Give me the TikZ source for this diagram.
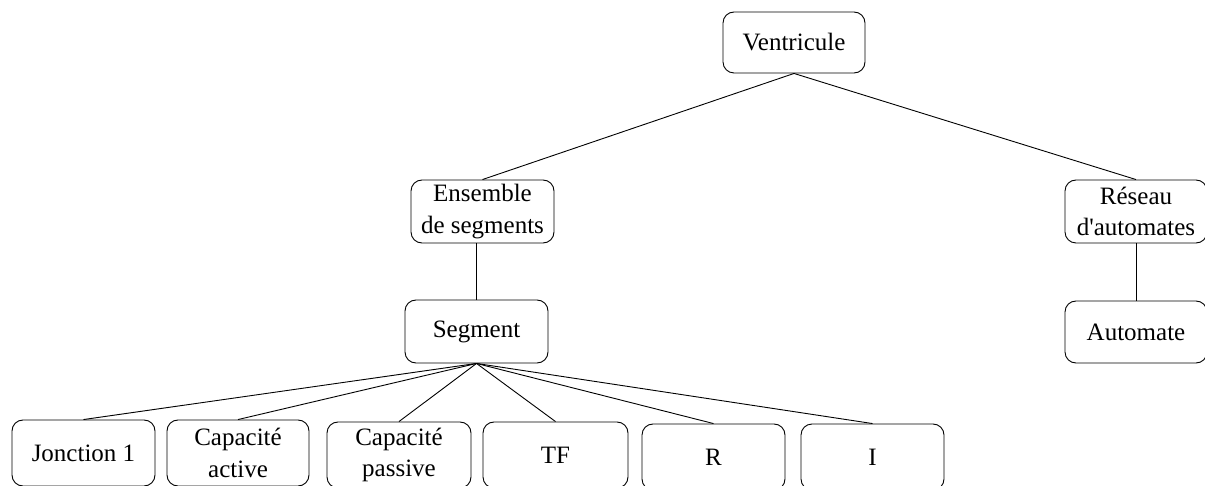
\documentclass[tikz,border=0pt]{standalone}
\usepackage{fontspec}
\setmainfont{Liberation Serif}
\begin{document}
\begin{tikzpicture}[x=1pt,y=-1pt,
  box/.style={draw,rounded corners=11pt,line width=0.9pt,align=center,
    font=\fontsize{25}{31.5}\selectfont,inner sep=0pt,minimum width=143pt,minimum height=63pt},
  tbox/.style={box,minimum height=66pt},
  link/.style={line width=0.9pt}]
\useasboundingbox (0,0) rectangle (1205,486);
\clip (0,0) rectangle (1205,486);
\node[box,minimum width=142pt,minimum height=61pt] (V) at (794,42.5) {Ventricule};
\node[box] (E) at (482.5,211.5) {Ensemble\\de segments};
\node[box,minimum width=142pt] (Re) at (1136,211.5) {R\'eseau\\d\textquotesingle automates};
\node[box] (S) at (476.5,331.5) {Segment};
\node[box,minimum width=142pt,minimum height=62pt] (A) at (1136,332) {Automate};
\node[tbox] (J) at (83.5,453) {Jonction 1};
\node[tbox,minimum width=142pt] (Ca) at (238,453) {Capacit\'e\\active};
\node[tbox,minimum width=144pt] (Cp) at (399,455) {Capacit\'e\\passive};
\node[tbox,minimum width=145pt] (TF) at (555.5,455) {TF};
\node[tbox] (R) at (713.5,457) {R};
\node[tbox] (I) at (872.5,457) {I};
\draw[link] (V.south) -- (E.north);
\draw[link] (V.south) -- (Re.north);
\draw[link] (S.north) -- (S.north |- E.south);
\draw[link] (Re.south) -- (A.north);
\foreach \n in {J,Ca,Cp,TF,R,I} \draw[link] (S.south) -- (\n.north);
\end{tikzpicture}
\end{document}
